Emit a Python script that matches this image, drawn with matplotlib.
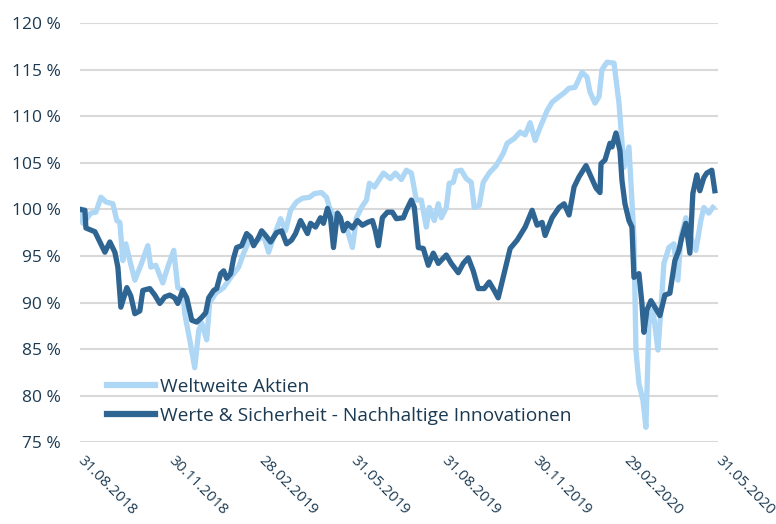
import numpy as np
import pandas as pd
import matplotlib
matplotlib.use('Agg')
import matplotlib.pyplot as plt
import matplotlib.dates as mdates

# Wertentwicklung in %, Startwert 100 am 31.08.2018
start = pd.Timestamp('2018-08-31')

# Tage seit Start / Indexwerte
days_aktien = [0, 3, 11, 16, 21, 26, 33, 37, 40, 43, 46, 50, 55, 61, 68, 71, 76, 83, 88, 94,
               98, 103, 105, 110, 115, 119, 122, 127, 130, 136, 144, 151, 159, 164, 171, 174,
               184, 189, 194, 201, 206, 211, 217, 223, 230, 235, 242, 247, 250, 257, 263, 268,
               273, 277, 282, 287, 290, 295, 298, 304, 311, 316, 322, 327, 332, 337, 342, 347,
               350, 355, 359, 362, 367, 370, 374, 377, 382, 387, 392, 395, 400, 404, 410, 417,
               424, 428, 435, 441, 446, 451, 456, 461, 468, 473, 480, 485, 490, 496, 503, 508,
               511, 516, 520, 523, 528, 535, 540, 545, 550, 552, 555, 557, 560, 564, 567, 570,
               574, 577, 579, 582, 585, 590, 595, 599, 602, 607, 612, 617, 622, 625, 630, 634]
aktien = [100.0, 98.5, 99.6, 99.7, 101.3, 100.8, 100.6, 98.8, 98.6, 94.5, 96.3, 94.5, 92.4, 94.0,
          96.1, 93.8, 94.0, 92.1, 93.8, 95.6, 91.6, 91.3, 88.8, 86.0, 83.0, 87.0, 87.8, 86.0,
          90.0, 91.0, 91.6, 92.7, 93.8, 95.3, 97.0, 96.3, 97.2, 95.4, 97.0, 99.0, 97.7, 99.9,
          100.8, 101.2, 101.3, 101.7, 101.8, 101.3, 100.2, 98.8, 98.5, 97.7, 95.9, 99.1, 100.2,
          101.0, 102.8, 102.4, 102.9, 103.9, 103.3, 103.9, 103.2, 104.2, 103.9, 101.0, 101.0,
          98.1, 100.2, 98.8, 100.6, 99.1, 100.2, 102.8, 102.9, 104.1, 104.2, 103.3, 102.9,
          100.2, 100.4, 102.9, 103.9, 104.7, 106.0, 107.1, 107.6, 108.3, 108.0, 109.3, 107.4,
          108.8, 110.6, 111.5, 112.1, 112.5, 113.0, 113.1, 114.7, 114.2, 112.6, 111.4, 112.1,
          115.0, 115.8, 115.7, 111.4, 104.5, 106.7, 102.8, 97.0, 84.9, 81.3, 79.5, 76.6, 87.8,
          89.2, 86.7, 84.9, 89.2, 94.2, 95.9, 96.3, 92.4, 97.0, 99.1, 97.0, 95.6, 98.8, 100.2,
          99.6, 100.2]

days_werte = [0, 5, 6, 15, 20, 25, 30, 35, 38, 41, 47, 51, 55, 60, 63, 70, 75, 80, 85, 90, 95,
              98, 103, 107, 112, 117, 122, 126, 129, 134, 137, 141, 144, 147, 151, 154, 157,
              162, 167, 171, 174, 179, 182, 186, 191, 197, 202, 207, 212, 216, 221, 228, 231,
              236, 241, 244, 248, 251, 254, 258, 261, 264, 268, 273, 278, 283, 288, 293, 296,
              299, 303, 308, 313, 317, 324, 327, 332, 335, 339, 344, 349, 354, 359, 367, 372,
              379, 384, 389, 394, 399, 405, 410, 415, 419, 424, 431, 438, 446, 453, 458, 463,
              466, 473, 480, 485, 490, 495, 500, 507, 512, 517, 521, 522, 526, 531, 533, 537,
              541, 543, 546, 550, 553, 555, 560, 563, 565, 568, 572, 576, 581, 586, 591, 596,
              600, 603, 607, 611, 614, 618, 621, 625, 628, 633, 636]
werte = [100.0, 99.9, 98.0, 97.6, 96.5, 95.4, 96.5, 95.4, 93.8, 89.5, 91.6, 90.7, 88.8, 89.1,
         91.3, 91.5, 90.8, 89.9, 90.6, 90.8, 90.5, 89.9, 91.3, 90.5, 88.1, 87.9, 88.4, 88.9,
         90.5, 91.3, 91.5, 93.1, 93.4, 92.6, 93.1, 94.8, 95.9, 96.1, 97.4, 97.0, 96.1, 97.0,
         97.7, 97.2, 96.5, 97.5, 97.7, 96.3, 96.7, 97.4, 98.8, 97.4, 98.5, 98.1, 99.1, 98.5,
         100.1, 99.1, 95.9, 99.6, 99.1, 97.7, 98.5, 98.0, 98.8, 98.3, 98.6, 98.8, 97.7, 96.1,
         99.1, 99.7, 99.7, 99.0, 99.1, 99.9, 101.0, 100.2, 95.9, 95.8, 94.0, 95.3, 94.2, 95.1,
         94.2, 93.2, 94.2, 94.8, 93.4, 91.5, 91.5, 92.2, 91.3, 90.5, 92.7, 95.8, 96.7, 98.1,
         99.9, 98.3, 98.6, 97.2, 99.1, 100.2, 100.6, 99.4, 102.4, 103.5, 104.7, 103.5, 102.3,
         101.8, 104.9, 105.3, 107.1, 106.7, 108.2, 106.3, 103.1, 100.6, 98.8, 98.1, 92.7, 93.1,
         89.9, 86.8, 89.2, 90.2, 89.5, 88.6, 90.8, 91.0, 94.5, 95.6, 97.0, 98.5, 95.3, 101.7,
         103.7, 102.0, 103.4, 103.9, 104.2, 102.0]

tick_dates = ['31.08.2018', '30.11.2018', '28.02.2019', '31.05.2019',
              '31.08.2019', '30.11.2019', '29.02.2020', '31.05.2020']
y_ticks = [75, 80, 85, 90, 95, 100, 105, 110, 115, 120]

c_light = '#AED6F5'
c_dark = '#2E6592'
c_text = '#1B3A52'

plt.rcParams['font.family'] = ['Open Sans', 'DejaVu Sans']

x_aktien = start + pd.to_timedelta(days_aktien, unit='D')
x_werte = start + pd.to_timedelta(days_werte, unit='D')
ticks = pd.to_datetime(tick_dates, format='%d.%m.%Y')

fig = plt.figure(figsize=(7.76, 5.24), dpi=100)
ax = fig.add_axes([0.103, 0.156, 0.822, 0.8])

ax.plot(x_aktien, aktien, color=c_light, lw=3.8, solid_joinstyle='round',
        label='Weltweite Aktien')
ax.plot(x_werte, werte, color=c_dark, lw=3.8, solid_joinstyle='round',
        label='Werte & Sicherheit - Nachhaltige Innovationen')

ax.set_ylim(75, 120)
ax.set_xlim(ticks[0], ticks[-1])
ax.set_yticks(y_ticks)
ax.set_yticklabels(['%d %%' % v for v in y_ticks])
ax.set_xticks(ticks)
ax.set_xticklabels(tick_dates)

ax.grid(axis='y', color='#D9D9D9', lw=1.5)
ax.set_axisbelow(True)
for s in ax.spines.values():
    s.set_visible(False)
ax.tick_params(axis='both', length=0, colors=c_text, labelsize=12.5)
ax.tick_params(axis='y', pad=14)
ax.tick_params(axis='x', pad=12)
for lab in ax.get_xticklabels():
    lab.set_rotation(-45)
    lab.set_ha('left')
    lab.set_va('center')
    lab.set_rotation_mode('anchor')
    lab.set_fontsize(10.8)

leg = ax.legend(loc='lower left', bbox_to_anchor=(0.015, 0.0), frameon=False,
                fontsize=13.8, handlelength=2.5, handletextpad=0.3, labelspacing=0.6)
for t in leg.get_texts():
    t.set_color(c_text)
for h in leg.get_lines():
    h.set_linewidth(4.5)

fig.savefig('out.png', dpi=100)
